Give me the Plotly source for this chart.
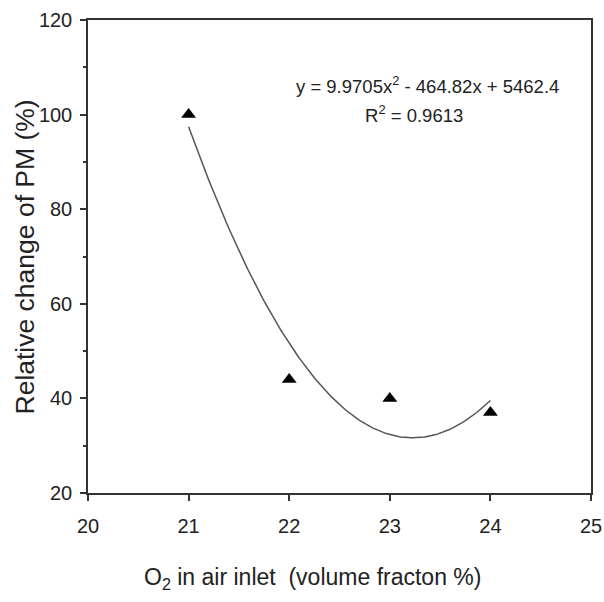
import numpy as np
import plotly.graph_objects as go

o2 = [21, 22, 23, 24]
pm_change = [100, 44, 40, 37]
x_ticks = [20, 21, 22, 23, 24, 25]
y_ticks = [20, 40, 60, 80, 100, 120]
eq_text = "y = 9.9705x<sup>2</sup> - 464.82x + 5462.4"
r2_text = "R<sup>2</sup> = 0.9613"

coef = np.polyfit(o2, pm_change, 2)
xf = np.linspace(min(o2), max(o2), 200)
yf = np.polyval(coef, xf)

FONT = "Liberation Sans, Arial"
TXT = "#222222"

fig = go.Figure()
fig.add_trace(go.Scatter(x=xf, y=yf, mode="lines",
                         line=dict(color="#555555", width=1.5),
                         showlegend=False, hoverinfo="skip"))
fig.add_trace(go.Scatter(x=o2, y=pm_change, mode="markers",
                         marker=dict(symbol="triangle-up", size=13, color="black"),
                         showlegend=False))

fig.update_layout(
    width=604, height=602,
    margin=dict(l=88, r=13, t=20, b=109, autoexpand=False),
    paper_bgcolor="white", plot_bgcolor="white",
    font=dict(family=FONT, size=20, color=TXT),
    xaxis=dict(range=[20, 25], tickvals=x_ticks, showgrid=False, zeroline=False,
               showline=True, linecolor="#333333", linewidth=1.5, mirror=True,
               ticks="outside", ticklen=6, tickcolor="#333333", tickwidth=1.5,
               ticklabelstandoff=8,
               tickfont=dict(family=FONT, size=20, color=TXT), automargin=False),
    yaxis=dict(range=[20, 120], tickvals=y_ticks, showgrid=False, zeroline=False,
               showline=True, linecolor="#333333", linewidth=1.5, mirror=True,
               ticks="outside", ticklen=6, tickcolor="#333333", tickwidth=1.5,
               ticklabelstandoff=4,
               tickfont=dict(family=FONT, size=20, color=TXT), automargin=False,
               minor=dict(dtick=10, ticks="outside", ticklen=3, tickcolor="#333333", tickwidth=1.5)),
)

fig.add_annotation(x=23.37, y=106.3, xref="x", yref="y", text=eq_text, showarrow=False,
                   font=dict(family=FONT, size=18.5, color=TXT), xanchor="center", yanchor="middle")
fig.add_annotation(x=23.24, y=100.2, xref="x", yref="y", text=r2_text, showarrow=False,
                   font=dict(family=FONT, size=18.5, color=TXT), xanchor="center", yanchor="middle")
fig.add_annotation(x=0.447, y=0, xref="paper", yref="paper", yshift=-85,
                   text="O<sub>2</sub> in air inlet&nbsp; (volume fracton %)", showarrow=False,
                   font=dict(family=FONT, size=23, color=TXT), xanchor="center", yanchor="middle")
fig.add_annotation(x=0, y=0.5, xref="paper", yref="paper", xshift=-64, yshift=-1,
                   text="Relative change of PM (%)", showarrow=False, textangle=-90,
                   font=dict(family=FONT, size=26.5, color=TXT), xanchor="center", yanchor="middle")

fig.write_html("out.html", config={"displayModeBar": False},
               post_script="document.body.style.margin='0';document.body.style.padding='0';")
